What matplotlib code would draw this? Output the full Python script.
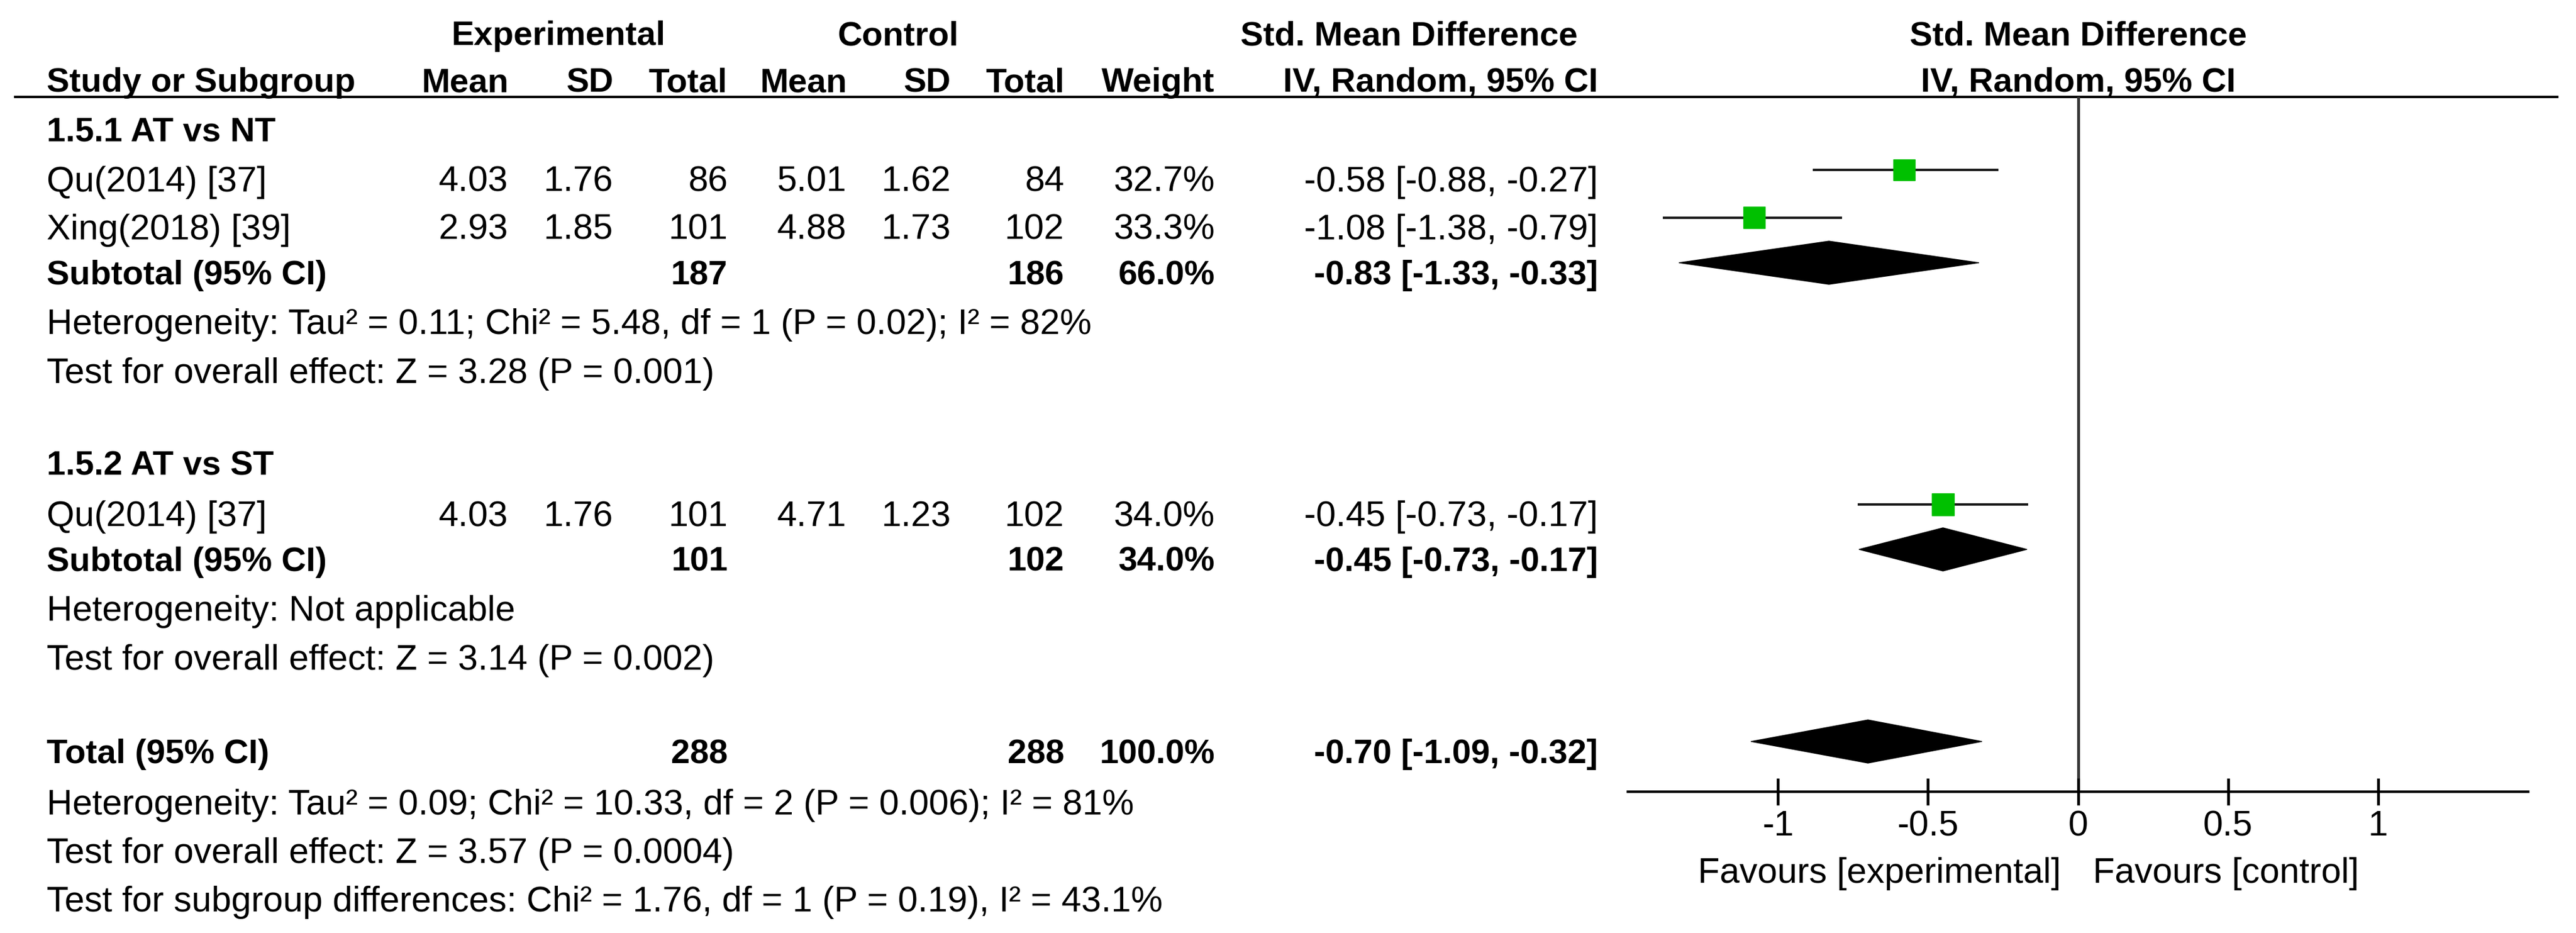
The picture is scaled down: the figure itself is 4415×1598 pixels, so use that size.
import matplotlib
matplotlib.use("Agg")
import matplotlib.pyplot as plt
from matplotlib.patches import Rectangle, Polygon

plt.rcParams['font.family'] = ['Liberation Sans', 'DejaVu Sans']
plt.rcParams['axes.unicode_minus'] = False

# ---- data ----
studies = ["Qu(2014) [37]", "Xing(2018) [39]", "Qu(2014) [37]"]
study_group = [0, 0, 1]
exp_mean = [4.03, 2.93, 4.03]
exp_sd = [1.76, 1.85, 1.76]
exp_n = [86, 101, 101]
ctl_mean = [5.01, 4.88, 4.71]
ctl_sd = [1.62, 1.73, 1.23]
ctl_n = [84, 102, 102]
weights = [32.7, 33.3, 34.0]
smd = [-0.58, -1.08, -0.45]
ci_lo = [-0.88, -1.38, -0.73]
ci_hi = [-0.27, -0.79, -0.17]

sub_names = ["1.5.1 AT vs NT", "1.5.2 AT vs ST"]
sub_exp_n = [187, 101]
sub_ctl_n = [186, 102]
sub_weight = [66.0, 34.0]
sub_smd = [-0.83, -0.45]
sub_lo = [-1.33, -0.73]
sub_hi = [-0.33, -0.17]
sub_het = ["Heterogeneity: Tau\u00b2 = 0.11; Chi\u00b2 = 5.48, df = 1 (P = 0.02); I\u00b2 = 82%",
           "Heterogeneity: Not applicable"]
sub_z = ["Test for overall effect: Z = 3.28 (P = 0.001)",
         "Test for overall effect: Z = 3.14 (P = 0.002)"]

tot_exp_n = 288
tot_ctl_n = 288
tot_weight = 100.0
tot_smd = -0.70
tot_lo = -1.09
tot_hi = -0.32
tot_notes = ["Heterogeneity: Tau\u00b2 = 0.09; Chi\u00b2 = 10.33, df = 2 (P = 0.006); I\u00b2 = 81%",
             "Test for overall effect: Z = 3.57 (P = 0.0004)",
             "Test for subgroup differences: Chi\u00b2 = 1.76, df = 1 (P = 0.19), I\u00b2 = 43.1%"]

ticks = [-1, -0.5, 0, 0.5, 1]
tick_labels = ["-1", "-0.5", "0", "0.5", "1"]

# ---- layout (pixels) ----
W, H = 4415, 1598
FS_B = 42      # bold text
FS_R = 44      # regular text
col_x = [871, 1051, 1247, 1451, 1630, 1824, 2082, 2739]
left_x = 80
ax_x0, ax_x1 = 2790, 4333
top_line, axis_y = 166, 1356

fig = plt.figure(figsize=(W / 100, H / 100), dpi=100)
ax = fig.add_axes([0, 0, 1, 1])
ax.set_xlim(0, W)
ax.set_ylim(H, 0)
ax.axis('off')

fax = fig.add_axes([ax_x0 / W, (H - axis_y) / H, (ax_x1 - ax_x0) / W, (axis_y - top_line) / H])
fax.set_xlim(-1.5, 1.5)
fax.set_ylim(axis_y, top_line)
fax.patch.set_alpha(0)
for s in ['left', 'top', 'right']:
    fax.spines[s].set_visible(False)
fax.spines['bottom'].set_linewidth(3.2)
fax.set_yticks([])
fax.set_xticks(ticks)
fax.set_xticklabels(tick_labels, fontsize=FS_R)
fax.tick_params(axis='x', direction='inout', length=33, width=3.4, pad=6)
fax.axvline(0, color='#333333', lw=3.5, zorder=1)


def txt(x, y, s, ha='left', bold=False):
    ax.text(x, y, s, ha=ha, va='baseline', fontsize=FS_B if bold else FS_R,
            fontweight='bold' if bold else 'normal', color='black')


# headers
txt(957, 77, "Experimental", ha='center', bold=True)
txt(1539, 77, "Control", ha='center', bold=True)
txt(2415, 77, "Std. Mean Difference", ha='center', bold=True)
txt(3562, 77, "Std. Mean Difference", ha='center', bold=True)
txt(left_x, 157, "Study or Subgroup", bold=True)
for x, s in zip(col_x, ["Mean", "SD", "Total", "Mean", "SD", "Total", "Weight", "IV, Random, 95% CI"]):
    txt(x, 157, s, ha='right', bold=True)
txt(3562, 157, "IV, Random, 95% CI", ha='center', bold=True)
ax.plot([24, 4385], [top_line, top_line], color='black', lw=3, solid_capstyle='butt')

mark_off = 37
half_d = 37


def square(x, y, w):
    side = 37 * (w / 33.3) ** 0.5
    hw = side / 2 / (ax_x1 - ax_x0) * 3.0
    fax.add_patch(Rectangle((x - hw, y - side / 2), 2 * hw, side, color='#00c000', zorder=4))


def diamond(x, lo, hi, y):
    fax.add_patch(Polygon([(lo, y), (x, y - half_d), (hi, y), (x, y + half_d)],
                          closed=True, color='black', zorder=4))


y = 241
for g in range(len(sub_names)):
    if g > 0:
        y += 158
    txt(left_x, y, sub_names[g], bold=True)
    first = True
    for i in range(len(studies)):
        if study_group[i] != g:
            continue
        y += 87 if first else 82
        first = False
        vals = [f"{exp_mean[i]:.2f}", f"{exp_sd[i]:.2f}", str(exp_n[i]),
                f"{ctl_mean[i]:.2f}", f"{ctl_sd[i]:.2f}", str(ctl_n[i]),
                f"{weights[i]:.1f}%", f"{smd[i]:.2f} [{ci_lo[i]:.2f}, {ci_hi[i]:.2f}]"]
        txt(left_x, y, studies[i])
        for x, s in zip(col_x, vals):
            txt(x, y, s, ha='right')
        ym = y - mark_off
        fax.plot([ci_lo[i], ci_hi[i]], [ym, ym], color='#1a1a1a', lw=3, zorder=3)
        square(smd[i], ym, weights[i])
    y += 77
    txt(left_x, y, "Subtotal (95% CI)", bold=True)
    txt(col_x[2], y, str(sub_exp_n[g]), ha='right', bold=True)
    txt(col_x[5], y, str(sub_ctl_n[g]), ha='right', bold=True)
    txt(col_x[6], y, f"{sub_weight[g]:.1f}%", ha='right', bold=True)
    txt(col_x[7], y, f"{sub_smd[g]:.2f} [{sub_lo[g]:.2f}, {sub_hi[g]:.2f}]", ha='right', bold=True)
    diamond(sub_smd[g], sub_lo[g], sub_hi[g], y - mark_off)
    y += 85
    txt(left_x, y, sub_het[g])
    y += 84
    txt(left_x, y, sub_z[g])

y += 160
txt(left_x, y, "Total (95% CI)", bold=True)
txt(col_x[2], y, str(tot_exp_n), ha='right', bold=True)
txt(col_x[5], y, str(tot_ctl_n), ha='right', bold=True)
txt(col_x[6], y, f"{tot_weight:.1f}%", ha='right', bold=True)
txt(col_x[7], y, f"{tot_smd:.2f} [{tot_lo:.2f}, {tot_hi:.2f}]", ha='right', bold=True)
diamond(tot_smd, tot_lo, tot_hi, y - mark_off)
for k, note in enumerate(tot_notes):
    y += 88 if k == 0 else 83
    txt(left_x, y, note)

txt(3532, 1512, "Favours [experimental]", ha='right')
txt(3587, 1512, "Favours [control]", ha='left')

fig.savefig("out.png", dpi=100, facecolor='white')
